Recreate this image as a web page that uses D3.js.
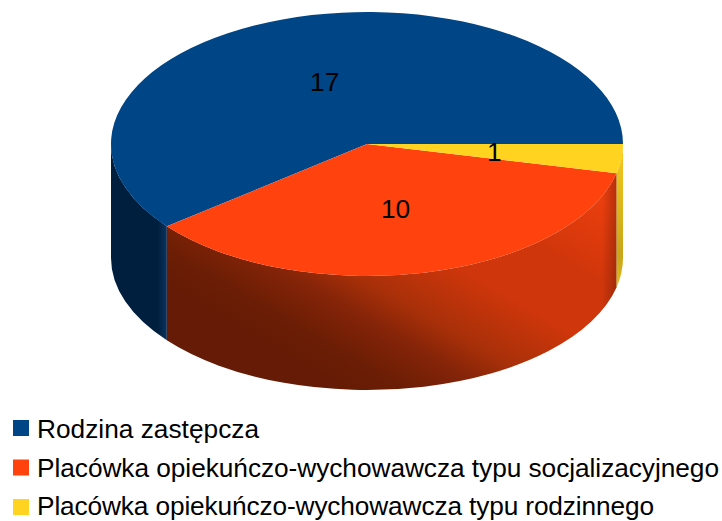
<!DOCTYPE html>
<html>
<head>
<meta charset="utf-8">
<script src="https://cdn.jsdelivr.net/npm/d3@7"></script>
<style>
  html, body { margin: 0; padding: 0; background: #fff; }
  text { font-family: "Liberation Sans", Arial, sans-serif; fill: #000; }
</style>
</head>
<body>
<div id="chart"></div>
<script>
const categories = [
  "Rodzina zastępcza",
  "Placówka opiekuńczo-wychowawcza typu socjalizacyjnego",
  "Placówka opiekuńczo-wychowawcza typu rodzinnego"
];
const values = [17, 10, 1];
const colors = ["#004586", "#ff420e", "#ffd320"];

const width = 722, height = 521;
const cx = 367, cy = 144, rx = 256, ry = 132, depth = 114;
const legendTextWidths = [222, 682, 617];

const svg = d3.select("#chart")
  .append("svg")
  .attr("width", width)
  .attr("height", height)
  .style("display", "block");

const color = d3.scaleOrdinal(categories, colors);

// Starts at 3 o'clock and runs counterclockwise
const pie = d3.pie()
  .sort(null)
  .startAngle(Math.PI / 2)
  .endAngle(Math.PI / 2 - 2 * Math.PI);

const slices = pie(values).map((d, i) => ({ ...d, name: categories[i] }));

const arc = d3.arc().innerRadius(0).outerRadius(rx);
const point = a => [cx + rx * Math.sin(a), cy - ry * Math.cos(a)];

// Only the front half of the rim is visible
function wall(d) {
  const a0 = Math.max(d.endAngle, -3 * Math.PI / 2);
  const a1 = Math.min(d.startAngle, -Math.PI / 2);
  if (a0 >= a1) return null;
  const [x0, y0] = point(a0);
  const [x1, y1] = point(a1);
  return `M${x0},${y0}A${rx},${ry} 0 0 1 ${x1},${y1}L${x1},${y1 + depth}` +
    `A${rx},${ry} 0 0 0 ${x0},${y0 + depth}Z`;
}

const defs = svg.append("defs");

function gradient(id, coords, stops) {
  const g = defs.append("linearGradient")
    .attr("id", id)
    .attr("gradientUnits", "userSpaceOnUse")
    .attr("x1", coords[0]).attr("y1", coords[1])
    .attr("x2", coords[2]).attr("y2", coords[3]);
  stops.forEach(s => g.append("stop")
    .attr("offset", s[0])
    .attr("stop-color", s[1])
    .attr("stop-opacity", s[2] === undefined ? 1 : s[2]));
}

gradient("wall0", [111, 0, 167, 0], [[0, "#001f3e"], [0.84, "#001f3e"], [1, "#0a3460"]]);
gradient("wall1", [300, 366, 448, 111], [
  [0, "#651b05"], [0.115, "#6c1e05"], [0.25, "#852408"], [0.36, "#a83009"],
  [0.56, "#cf360b"], [0.76, "#d0360b"], [1, "#ea3e0e"]
]);
gradient("wall2", [0, 150, 0, 290], [[0, "#f2c91e"], [0.75, "#c8a51a"], [1, "#e4bd1c"]]);
gradient("edge", [602, 0, 616, 0], [[0, "#000", 0], [1, "#000", 0.22]]);

// Sides first, tops over them
const walls = svg.append("g");

walls.selectAll("path.wall")
  .data(slices.filter(d => wall(d)))
  .join("path")
  .attr("class", "wall")
  .attr("d", wall)
  .attr("fill", d => `url(#wall${d.index})`);

// Orange side darkens a little towards its right end
walls.append("path")
  .attr("d", wall(slices[1]))
  .attr("fill", "url(#edge)");

svg.append("g")
  .attr("transform", `translate(${cx},${cy}) scale(1,${ry / rx})`)
  .selectAll("path")
  .data(slices)
  .join("path")
  .attr("d", arc)
  .attr("fill", d => color(d.name));

// Labels sit halfway along the radius
svg.append("g")
  .selectAll("text")
  .data(slices)
  .join("text")
  .attr("x", d => cx + arc.centroid(d)[0])
  .attr("y", d => cy + arc.centroid(d)[1] * ry / rx)
  .attr("dy", "0.35em")
  .attr("text-anchor", "middle")
  .attr("font-size", 26.25)
  .text(d => d.value);

// Legend, last row lifted a bit so its descenders stay on the page
const swatchY = d3.scalePoint().domain(categories).range([420, 499]);
const legendY = d3.scalePoint().domain(categories).range([438, 515]);

const legend = svg.append("g");

legend.selectAll("rect")
  .data(categories)
  .join("rect")
  .attr("x", 13)
  .attr("y", d => swatchY(d))
  .attr("width", 16)
  .attr("height", 16)
  .attr("fill", d => color(d));

legend.selectAll("text")
  .data(categories)
  .join("text")
  .attr("x", 37)
  .attr("y", d => legendY(d))
  .attr("font-size", 26.25)
  .attr("textLength", (d, i) => legendTextWidths[i])
  .attr("lengthAdjust", "spacing")
  .text(d => d);
</script>
</body>
</html>
